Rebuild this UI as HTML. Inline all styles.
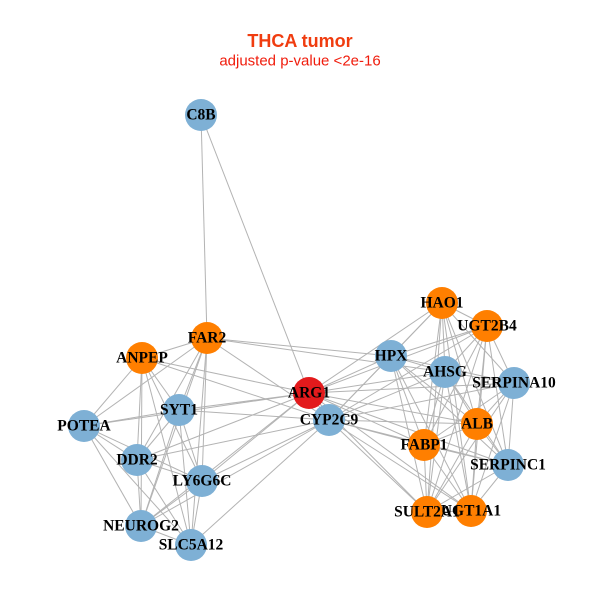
<!DOCTYPE html>
<html><head><meta charset="utf-8"><style>
body{margin:0;background:#fff;width:600px;height:600px;overflow:hidden}
svg text{font-family:"Liberation Serif",serif;font-weight:bold;font-size:15.5px;text-anchor:middle;dominant-baseline:central;fill:#000}
</style></head><body>
<svg id="s" width="600" height="600" viewBox="0 0 600 600">
<text x="300" y="41" style="font-family:'Liberation Sans',sans-serif;font-size:18px;fill:#f03c0f;font-weight:bold">THCA tumor</text>
<text x="300" y="61" style="font-family:'Liberation Sans',sans-serif;font-size:15px;fill:#f01c0c;font-weight:normal">adjusted p-value &lt;2e-16</text>
<g id="e" stroke="#b3b3b3" stroke-width="1"></g>
<g id="n"></g>
</svg>
<script>
var N={C8B:[201,115,'b'],HAO1:[442,303,'o'],UGT2B4:[487,326,'o'],FAR2:[207,338,'o'],ANPEP:[142,358,'o'],HPX:[391,356,'b'],AHSG:[445,372,'b'],SERPINA10:[514,383,'b'],ARG1:[309,393,'r'],SYT1:[179,410,'b'],ALB:[477,424,'o'],POTEA:[84,426,'b'],CYP2C9:[329,420,'b'],FABP1:[424,445,'o'],DDR2:[137,460,'b'],SERPINC1:[508,465,'b'],LY6G6C:[202,481,'b'],SULT2A1:[427,512,'o'],UGT1A1:[471,511,'o'],NEUROG2:[141,526,'b'],SLC5A12:[191,545,'b']};
var E=[];
var R=['HAO1','UGT2B4','HPX','AHSG','SERPINA10','ALB','FABP1','SERPINC1','SULT2A1','UGT1A1'];
var L=['FAR2','ANPEP','SYT1','POTEA','DDR2','LY6G6C','NEUROG2','SLC5A12'];
function cl(a){for(var i=0;i<a.length;i++)for(var j=i+1;j<a.length;j++)E.push([a[i],a[j]]);}
cl(R);cl(L);
R.forEach(function(r){E.push(['ARG1',r]);E.push(['CYP2C9',r]);});
[['C8B','FAR2'],['C8B','ARG1'],['ARG1','CYP2C9'],['FAR2','HPX'],['ANPEP','ARG1'],['SYT1','ARG1'],['POTEA','ARG1'],['ARG1','LY6G6C'],['ARG1','NEUROG2'],['ARG1','DDR2'],['CYP2C9','DDR2'],['CYP2C9','SLC5A12'],['CYP2C9','NEUROG2'],['CYP2C9','ANPEP'],['CYP2C9','FAR2'],['CYP2C9','LY6G6C'],['FAR2','AHSG'],['SYT1','CYP2C9']].forEach(function(x){E.push(x)});
var ns='http://www.w3.org/2000/svg',eg=document.getElementById('e'),ng=document.getElementById('n');
E.forEach(function(p){var a=N[p[0]],b=N[p[1]],l=document.createElementNS(ns,'line');l.setAttribute('x1',a[0]);l.setAttribute('y1',a[1]);l.setAttribute('x2',b[0]);l.setAttribute('y2',b[1]);eg.appendChild(l);});
var C={b:'#7eb0d5',o:'#ff7f00',r:'#e31a1c'};
for(var k in N){var c=document.createElementNS(ns,'circle');c.setAttribute('cx',N[k][0]);c.setAttribute('cy',N[k][1]);c.setAttribute('r',16);c.setAttribute('fill',C[N[k][2]]);ng.appendChild(c);}
for(var k in N){var t=document.createElementNS(ns,'text');t.setAttribute('x',N[k][0]);t.setAttribute('y',N[k][1]);t.textContent=k;ng.appendChild(t);}
</script>
</body></html>
